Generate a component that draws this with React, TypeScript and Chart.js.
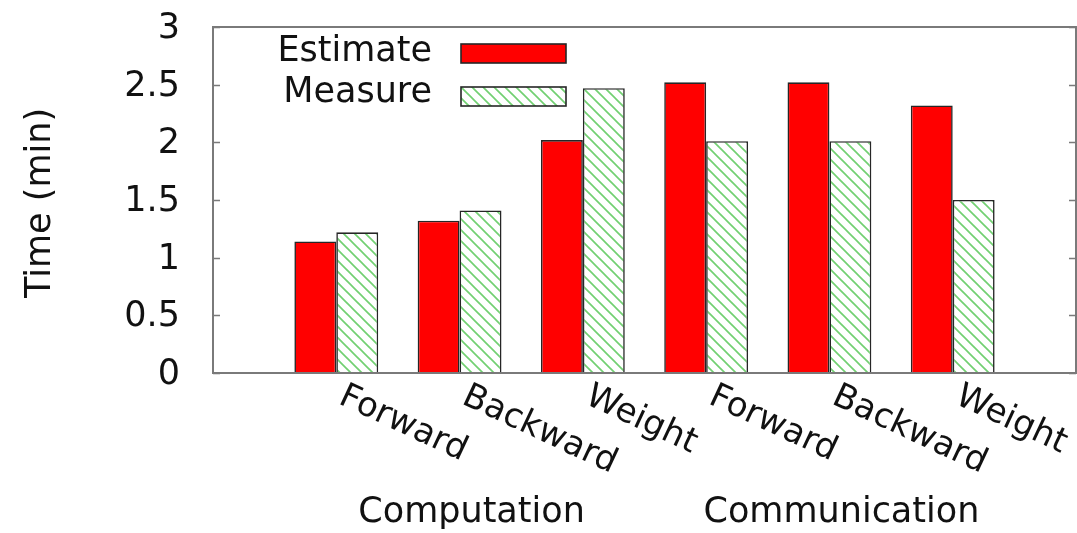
import { useEffect, useRef } from "react";
import { Chart, registerables } from "chart.js";

Chart.register(...registerables);

// Category slots: an empty slot at each end keeps the bar groups off the frame.
const categories = ["", "Forward", "Backward", "Weight", "Forward", "Backward", "Weight", ""];
const estimate = [null, 1.14, 1.32, 2.02, 2.52, 2.52, 2.32, null];
const measure = [null, 1.22, 1.41, 2.47, 2.01, 2.01, 1.5, null];
const yTicks = [0, 0.5, 1, 1.5, 2, 2.5, 3];
const seriesNames = ["Estimate", "Measure"];
const groupNames = ["Computation", "Communication"];
const groupCenters = [2, 5];
const yTitle = "Time (min)";

const FONT = "DejaVu Sans";
const FRAME = "#7a7a7a";
const EDGE = "#262626";
const INK = "#111111";

function makeHatch(): CanvasPattern | string {
  const s = 11;
  const c = document.createElement("canvas");
  c.width = s;
  c.height = s;
  const g = c.getContext("2d");
  if (!g) return "#ffffff";
  g.fillStyle = "#ffffff";
  g.fillRect(0, 0, s, s);
  g.strokeStyle = "#72d072";
  g.lineWidth = 1.7;
  for (let k = -1; k <= 1; k++) {
    g.beginPath();
    g.moveTo(k * s - 1, -1);
    g.lineTo(k * s + s + 1, s + 1);
    g.stroke();
  }
  const p = g.createPattern(c, "repeat");
  return p || "#ffffff";
}

export default function App() {
  const ref = useRef<HTMLCanvasElement | null>(null);

  useEffect(() => {
    const canvas = ref.current;
    if (!canvas) return;
    const hatch = makeHatch();

    const decorations = {
      id: "decorations",
      afterDatasetsDraw(chart: any) {
        const { ctx, chartArea } = chart;
        const { left, right, top, bottom } = chartArea;
        const y = chart.scales.y;
        const x = chart.scales.x;
        ctx.save();

        // frame with inward ticks on both sides
        ctx.strokeStyle = FRAME;
        ctx.lineWidth = 2;
        ctx.strokeRect(left, top, right - left, bottom - top);
        ctx.lineWidth = 1.5;
        for (const v of yTicks) {
          const py = Math.round(y.getPixelForValue(v)) + 0.5;
          ctx.beginPath();
          ctx.moveTo(left, py);
          ctx.lineTo(left + 7, py);
          ctx.moveTo(right, py);
          ctx.lineTo(right - 7, py);
          ctx.stroke();
        }

        // y tick labels
        ctx.fillStyle = INK;
        ctx.font = `35px "${FONT}"`;
        ctx.textAlign = "right";
        ctx.textBaseline = "alphabetic";
        for (const v of yTicks) {
          ctx.fillText(String(v), left - 33, y.getPixelForValue(v) + 11);
        }

        // y title
        ctx.save();
        ctx.translate(50, (top + bottom) / 2 + 3);
        ctx.rotate(-Math.PI / 2);
        ctx.textAlign = "center";
        ctx.fillText(yTitle, 0, 0);
        ctx.restore();

        // rotated category labels
        ctx.font = `34px "${FONT}"`;
        ctx.textAlign = "left";
        categories.forEach((lab, i) => {
          if (!lab) return;
          ctx.save();
          ctx.translate(x.getPixelForValue(i) + 1, bottom + 30);
          ctx.rotate((25 * Math.PI) / 180);
          ctx.fillText(lab, 0, 0);
          ctx.restore();
        });

        // group labels
        ctx.font = `35px "${FONT}"`;
        ctx.textAlign = "center";
        groupNames.forEach((g, i) => {
          ctx.fillText(g, x.getPixelForValue(groupCenters[i]) + 12, bottom + 149);
        });

        // legend
        const fills = [0, 1].map((i) => chart.data.datasets[i].backgroundColor);
        seriesNames.forEach((name, i) => {
          const ty = 61 + i * 41;
          ctx.textAlign = "right";
          ctx.fillStyle = INK;
          ctx.fillText(name, 432, ty);
          ctx.fillStyle = fills[i];
          ctx.fillRect(461, 44 + i * 43, 105, 19);
          ctx.strokeStyle = EDGE;
          ctx.lineWidth = 1.6;
          ctx.strokeRect(461, 44 + i * 43, 105, 19);
        });

        ctx.restore();
      },
    };

    const chart = new Chart(canvas, {
      type: "bar",
      data: {
        labels: categories,
        datasets: [
          {
            label: seriesNames[0],
            data: estimate,
            backgroundColor: "#ff0000",
            borderColor: EDGE,
            borderWidth: 1.6,
            categoryPercentage: 0.68,
            barPercentage: 1,
          },
          {
            label: seriesNames[1],
            data: measure,
            backgroundColor: hatch as any,
            borderColor: EDGE,
            borderWidth: 1.6,
            categoryPercentage: 0.68,
            barPercentage: 1,
          },
        ],
      },
      options: {
        responsive: false,
        animation: false,
        layout: { padding: { left: 213, top: 27, right: 1, bottom: 160 } },
        plugins: { legend: { display: false }, tooltip: { enabled: false } },
        scales: {
          x: { type: "category", offset: false, display: false, grid: { offset: false } },
          y: { min: 0, max: 3, display: false },
        },
      },
      plugins: [decorations],
    });

    return () => chart.destroy();
  }, []);

  return (
    <div style={{ position: "fixed", left: 0, top: 0, width: 1077, height: 533, background: "#fff" }}>
      <canvas ref={ref} width={1077} height={533} />
    </div>
  );
}
